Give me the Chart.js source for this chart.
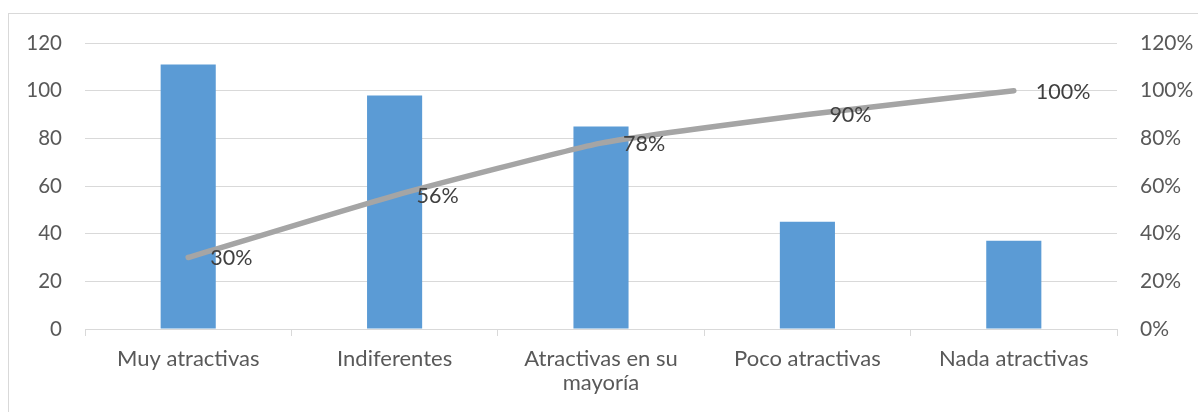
<!DOCTYPE html>
<html>
<head>
<meta charset="utf-8">
<script src="https://cdn.jsdelivr.net/npm/chart.js@4/dist/chart.umd.min.js"></script>
<style>
  html, body { margin: 0; padding: 0; background: #fff; }
  body { width: 1198px; height: 412px; overflow: hidden; position: relative; }
  #frame { position: absolute; left: 8px; top: 13px; width: 1200px; height: 420px;
           border: 1px solid #d9d9d9; box-sizing: border-box; }
  #wrap { position: absolute; left: 0; top: 0; width: 1198px; height: 412px; }
</style>
</head>
<body>
<div id="frame"></div>
<div id="wrap"><canvas id="c" width="1198" height="412"></canvas></div>
<script>
// Categories and values
const categories = ["Muy atractivas", "Indiferentes", ["Atractivas en su", "mayoría"], "Poco atractivas", "Nada atractivas"];
const counts = [111, 98, 85, 45, 37];
const cumulativePct = [0.30, 0.56, 0.78, 0.90, 1.00];
const countTicks = [0, 20, 40, 60, 80, 100, 120];
const pctTicks = [0, 0.2, 0.4, 0.6, 0.8, 1.0, 1.2];

const FONT = "Lato, 'Open Sans', sans-serif";

// Percent labels to the right of each point on the cumulative line
const pointLabels = {
  id: 'pointLabels',
  afterDatasetsDraw(chart) {
    const meta = chart.getDatasetMeta(1);
    const ctx = chart.ctx;
    ctx.save();
    ctx.font = "21.5px " + FONT;
    ctx.fillStyle = "#404040";
    ctx.textAlign = "left";
    ctx.textBaseline = "middle";
    meta.data.forEach((pt, i) => {
      const txt = Math.round(cumulativePct[i] * 100) + "%";
      ctx.fillText(txt, pt.x + 22, pt.y + 1);
    });
    ctx.restore();
  }
};

new Chart(document.getElementById('c'), {
  data: {
    labels: categories,
    datasets: [
      {
        type: 'bar',
        data: counts,
        backgroundColor: '#5B9BD5',
        yAxisID: 'y',
        categoryPercentage: 1,
        barPercentage: 0.267,
        order: 2
      },
      {
        type: 'line',
        data: cumulativePct,
        borderColor: '#A5A5A5',
        borderWidth: 5.5,
        borderCapStyle: 'round',
        pointRadius: 0,
        tension: 0.15,
        fill: false,
        yAxisID: 'y1',
        order: 1
      }
    ]
  },
  options: {
    responsive: false,
    animation: false,
    events: [],
    layout: { padding: { top: 43, left: 0, right: 0, bottom: 0 } },
    plugins: { legend: { display: false }, tooltip: { enabled: false } },
    scales: {
      x: {
        offset: true,
        grid: { display: true, drawOnChartArea: false, offset: true, tickLength: 7, color: '#d9d9d9', lineWidth: 1 },
        border: { display: true, color: '#d9d9d9' },
        ticks: { color: '#595959', font: { family: FONT, size: 22, lineHeight: 1.1 }, padding: 11, maxRotation: 0, autoSkip: false },
        afterFit(s) { s.height = 83; }
      },
      y: {
        position: 'left',
        min: 0, max: 120,
        afterBuildTicks(s) { s.ticks = countTicks.map(v => ({ value: v })); },
        grid: { color: '#d9d9d9', lineWidth: 1, drawTicks: false },
        border: { display: false },
        ticks: { color: '#595959', font: { family: FONT, size: 20.5 }, padding: 23 },
        afterFit(s) { s.width = 85; }
      },
      y1: {
        position: 'right',
        min: 0, max: 1.2,
        afterBuildTicks(s) { s.ticks = pctTicks.map(v => ({ value: v })); },
        grid: { display: false, drawTicks: false },
        border: { display: false },
        ticks: {
          color: '#595959', font: { family: FONT, size: 21 }, padding: 23,
          callback: v => Math.round(v * 100) + '%'
        },
        afterFit(s) { s.width = 81; }
      }
    }
  },
  plugins: [pointLabels]
});
</script>
</body>
</html>
